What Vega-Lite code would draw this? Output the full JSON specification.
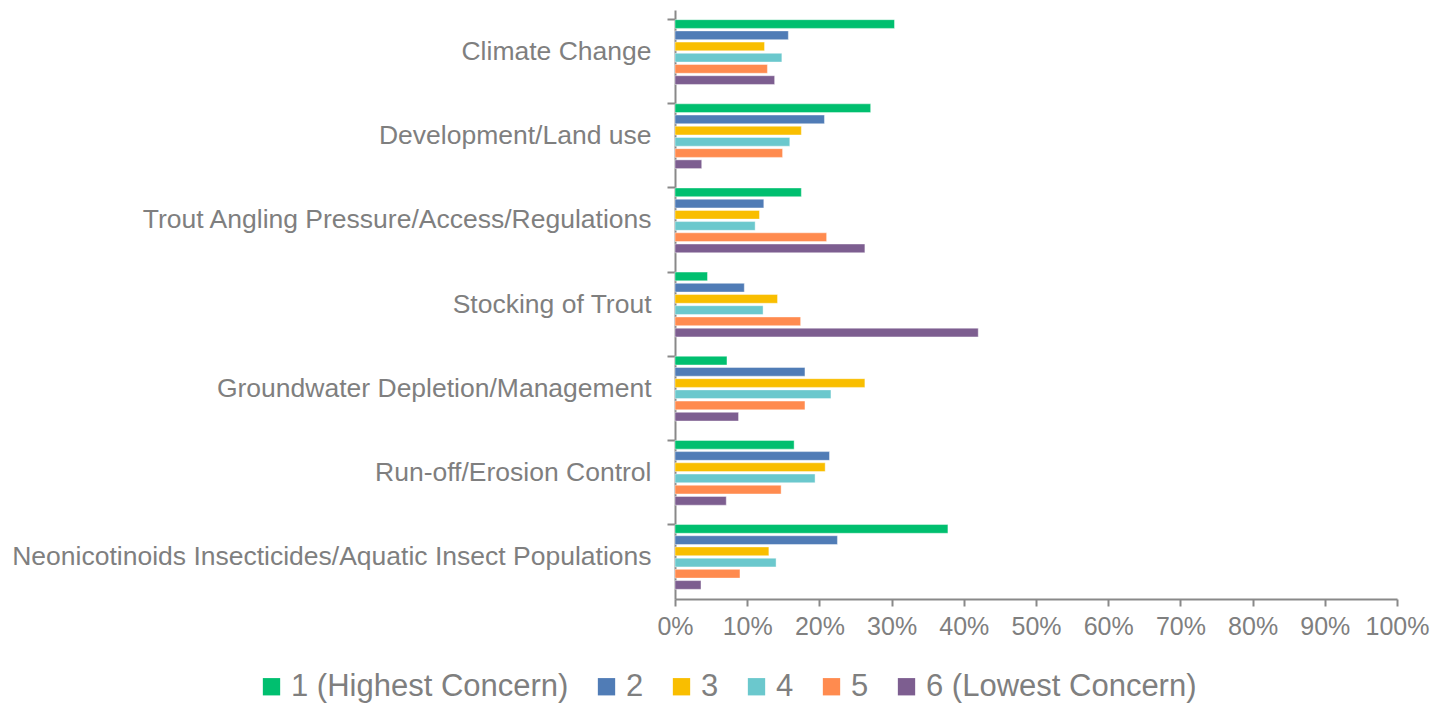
{
  "$schema": "https://vega.github.io/schema/vega-lite/v6.json",
  "autosize": {"type": "none"},
  "padding": {"left": 675, "top": 10, "right": 38, "bottom": 106},
  "width": 722,
  "height": 589,
  "background": "white",
  "config": {
    "font": "Liberation Sans",
    "view": {"stroke": null}
  },
  "data": {
    "values": [
      {"issue": "Climate Change", "rank": "1 (Highest Concern)", "pct": 0.304},
      {"issue": "Climate Change", "rank": "2", "pct": 0.157},
      {"issue": "Climate Change", "rank": "3", "pct": 0.124},
      {"issue": "Climate Change", "rank": "4", "pct": 0.148},
      {"issue": "Climate Change", "rank": "5", "pct": 0.128},
      {"issue": "Climate Change", "rank": "6 (Lowest Concern)", "pct": 0.138},
      {"issue": "Development/Land use", "rank": "1 (Highest Concern)", "pct": 0.271},
      {"issue": "Development/Land use", "rank": "2", "pct": 0.207},
      {"issue": "Development/Land use", "rank": "3", "pct": 0.175},
      {"issue": "Development/Land use", "rank": "4", "pct": 0.159},
      {"issue": "Development/Land use", "rank": "5", "pct": 0.149},
      {"issue": "Development/Land use", "rank": "6 (Lowest Concern)", "pct": 0.037},
      {"issue": "Trout Angling Pressure/Access/Regulations", "rank": "1 (Highest Concern)", "pct": 0.175},
      {"issue": "Trout Angling Pressure/Access/Regulations", "rank": "2", "pct": 0.123},
      {"issue": "Trout Angling Pressure/Access/Regulations", "rank": "3", "pct": 0.117},
      {"issue": "Trout Angling Pressure/Access/Regulations", "rank": "4", "pct": 0.111},
      {"issue": "Trout Angling Pressure/Access/Regulations", "rank": "5", "pct": 0.210},
      {"issue": "Trout Angling Pressure/Access/Regulations", "rank": "6 (Lowest Concern)", "pct": 0.263},
      {"issue": "Stocking of Trout", "rank": "1 (Highest Concern)", "pct": 0.045},
      {"issue": "Stocking of Trout", "rank": "2", "pct": 0.096},
      {"issue": "Stocking of Trout", "rank": "3", "pct": 0.142},
      {"issue": "Stocking of Trout", "rank": "4", "pct": 0.122},
      {"issue": "Stocking of Trout", "rank": "5", "pct": 0.174},
      {"issue": "Stocking of Trout", "rank": "6 (Lowest Concern)", "pct": 0.420},
      {"issue": "Groundwater Depletion/Management", "rank": "1 (Highest Concern)", "pct": 0.072},
      {"issue": "Groundwater Depletion/Management", "rank": "2", "pct": 0.180},
      {"issue": "Groundwater Depletion/Management", "rank": "3", "pct": 0.263},
      {"issue": "Groundwater Depletion/Management", "rank": "4", "pct": 0.216},
      {"issue": "Groundwater Depletion/Management", "rank": "5", "pct": 0.180},
      {"issue": "Groundwater Depletion/Management", "rank": "6 (Lowest Concern)", "pct": 0.088},
      {"issue": "Run-off/Erosion Control", "rank": "1 (Highest Concern)", "pct": 0.165},
      {"issue": "Run-off/Erosion Control", "rank": "2", "pct": 0.214},
      {"issue": "Run-off/Erosion Control", "rank": "3", "pct": 0.208},
      {"issue": "Run-off/Erosion Control", "rank": "4", "pct": 0.194},
      {"issue": "Run-off/Erosion Control", "rank": "5", "pct": 0.147},
      {"issue": "Run-off/Erosion Control", "rank": "6 (Lowest Concern)", "pct": 0.071},
      {"issue": "Neonicotinoids Insecticides/Aquatic Insect Populations", "rank": "1 (Highest Concern)", "pct": 0.378},
      {"issue": "Neonicotinoids Insecticides/Aquatic Insect Populations", "rank": "2", "pct": 0.225},
      {"issue": "Neonicotinoids Insecticides/Aquatic Insect Populations", "rank": "3", "pct": 0.130},
      {"issue": "Neonicotinoids Insecticides/Aquatic Insect Populations", "rank": "4", "pct": 0.140},
      {"issue": "Neonicotinoids Insecticides/Aquatic Insect Populations", "rank": "5", "pct": 0.090},
      {"issue": "Neonicotinoids Insecticides/Aquatic Insect Populations", "rank": "6 (Lowest Concern)", "pct": 0.036}
    ]
  },
  "mark": {"type": "bar", "stroke": "white", "strokeWidth": 0.6, "strokeOpacity": 0.7},
  "encoding": {
    "y": {
      "field": "issue",
      "type": "nominal",
      "sort": null,
      "scale": {"paddingInner": 0.23, "paddingOuter": 0.115},
      "axis": {
        "title": null,
        "bandPosition": 0,
        "labelFontSize": 26.5,
        "labelColor": "#7f7f7f",
        "labelPadding": 16,
        "labelLimit": 700,
        "domainColor": "#898989",
        "domainWidth": 2,
        "tickColor": "#898989",
        "tickWidth": 2,
        "tickSize": 8
      }
    },
    "yOffset": {
      "field": "rank",
      "type": "nominal",
      "sort": ["1 (Highest Concern)", "2", "3", "4", "5", "6 (Lowest Concern)"],
      "scale": {"paddingInner": 0.22, "paddingOuter": 0}
    },
    "x": {
      "field": "pct",
      "type": "quantitative",
      "scale": {"domain": [0, 1], "nice": false},
      "axis": {
        "title": null,
        "format": ".0%",
        "values": [0, 0.1, 0.2, 0.3, 0.4, 0.5, 0.6, 0.7, 0.8, 0.9, 1],
        "grid": false,
        "labelOverlap": false,
        "labelFlush": false,
        "labelFontSize": 25,
        "labelColor": "#7f7f7f",
        "labelPadding": 8,
        "domainColor": "#898989",
        "domainWidth": 2,
        "tickColor": "#898989",
        "tickWidth": 2,
        "tickSize": 7
      }
    },
    "color": {
      "field": "rank",
      "type": "nominal",
      "sort": ["1 (Highest Concern)", "2", "3", "4", "5", "6 (Lowest Concern)"],
      "scale": {"range": ["#00BF6F", "#507CB6", "#F9BE00", "#6BC8CD", "#FF8B4F", "#7D5E90"]},
      "legend": {
        "title": null,
        "orient": "none",
        "direction": "horizontal",
        "columns": 6,
        "legendX": -419,
        "legendY": 661,
        "symbolType": "square",
        "symbolSize": 300,
        "symbolStrokeWidth": 0,
        "labelFontSize": 31,
        "labelColor": "#7f7f7f",
        "labelOffset": 4,
        "columnPadding": 22,
        "labelLimit": 500
      }
    }
  }
}
